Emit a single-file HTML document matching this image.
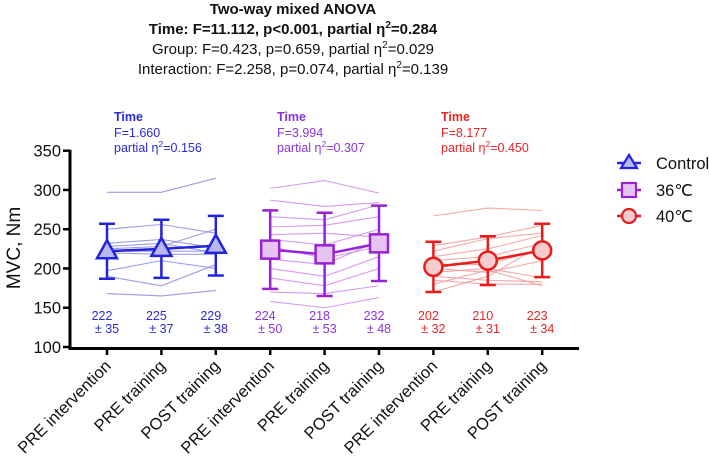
<!DOCTYPE html>
<html><head><meta charset="utf-8"><style>
html,body{margin:0;padding:0;background:#fff;}
svg{display:block;font-family:"Liberation Sans",Arial,sans-serif;}
</style></head><body>
<svg id="chart" width="709" height="457" viewBox="0 0 709 457">
<g text-anchor="middle" fill="#111">
<text x="293" y="14" font-size="15" font-weight="bold">Two-way mixed ANOVA</text>
<text x="293" y="34" font-size="15" font-weight="bold">Time: F=11.112, p&lt;0.001, partial η<tspan font-size="10" dy="-6">2</tspan><tspan dy="6">=0.284</tspan></text>
<text x="293" y="54" font-size="15">Group: F=0.423, p=0.659, partial η<tspan font-size="10" dy="-6">2</tspan><tspan dy="6">=0.029</tspan></text>
<text x="293" y="74" font-size="15">Interaction: F=2.258, p=0.074, partial η<tspan font-size="10" dy="-6">2</tspan><tspan dy="6">=0.139</tspan></text>
</g>
<g id="stats" font-size="12.5"></g>
<g id="plot"></g>
<g id="axes"></g>
<g id="legend"></g>
</svg>
<script>
const categories = ["PRE intervention","PRE training","POST training","PRE intervention","PRE training","POST training","PRE intervention","PRE training","POST training"];
const groupNames = ["Control","36℃","40℃"];
const meansControl = [222,225,229];
const sdControl = [35,37,38];
const means36 = [224,218,232];
const sd36 = [50,53,48];
const means40 = [202,210,223];
const sd40 = [32,31,34];
const indivControl = [[297,297,315],[250,256,245],[232,237,226],[228,232,220],[225,228,250],[222,222,222],[220,218,218],[197,210,200],[190,178,205],[168,165,172]];
const indiv36 = [[302,312,296],[287,279,284],[266,262,281],[253,255,266],[243,245,240],[237,230,250],[228,213,228],[212,205,235],[200,190,215],[188,178,200],[170,168,178],[158,150,163]];
const indiv40 = [[267,277,274],[229,240,255],[222,238,245],[215,225,242],[210,215,232],[205,205,225],[200,195,210],[195,200,188],[190,185,183],[185,180,180],[180,198,178],[170,190,230]];
const groupF = ["1.660","3.994","8.177"];
const groupEta = ["0.156","0.307","0.450"];
const yTicks = [100,150,200,250,300,350];

const NS="http://www.w3.org/2000/svg";
const colors=["#2323dc","#9a22d6","#e81c1c"];
const light=["#8b8bea","#d08ae8","#f29a9a"];
const fills=["#b8b8f0","#e6c4f2","#f8cccc"];
const statCol=["#2a2ad8","#8a33e0","#e82424"];
const xLeft=70, xRight=579, yTop=150.7, yBot=347;
function yS(v){return yTop+(350-v)*(yBot-yTop)/250;}
function xS(i){return 107+i*54.4;}
function el(t,a,p){const e=document.createElementNS(NS,t);for(const k in a)e.setAttribute(k,a[k]);p.appendChild(e);return e;}
const plot=document.getElementById('plot'),axes=document.getElementById('axes'),stats=document.getElementById('stats'),legend=document.getElementById('legend');
const means=[meansControl,means36,means40],sds=[sdControl,sd36,sd40],indiv=[indivControl,indiv36,indiv40];

for(let g=0;g<3;g++){
  const gg=el('g',{},plot);
  
  
  indiv[g].forEach(r=>{
    const l=el('polyline',{points:r.map((v,i)=>xS(g*3+i)+','+yS(v)).join(' '),fill:'none',stroke:light[g],'stroke-width':1.1,opacity:0.85},gg);
    
    
  });
  const ml=el('polyline',{points:means[g].map((v,i)=>xS(g*3+i)+','+yS(v)).join(' '),fill:'none',stroke:colors[g],'stroke-width':2.5},gg);
  
  
  means[g].forEach((m,i)=>{
    const x=xS(g*3+i),s=sds[g][i];
    const eb=el('path',{d:`M${x},${yS(m+s)}V${yS(m-s)}M${x-8},${yS(m+s)}H${x+8}M${x-8},${yS(m-s)}H${x+8}`,stroke:colors[g],'stroke-width':2.5,fill:'none'},gg);
    
    
    const y=yS(m);let mk;
    if(g==0)mk=el('path',{d:`M${x},${y-11}L${x+10},${y+7}L${x-10},${y+7}Z`},gg);
    else if(g==1)mk=el('rect',{x:x-9,y:y-9,width:18,height:18},gg);
    else mk=el('circle',{cx:x,cy:y,r:9},gg);
    mk.setAttribute('fill',fills[g]);mk.setAttribute('stroke',colors[g]);mk.setAttribute('stroke-width',2.5);
    
    
    const t1=el('text',{x:x-5,y:320,'text-anchor':'middle',fill:statCol[g],'font-size':12.5},gg);t1.textContent=m;
    
    
    const t2=el('text',{x:x,y:333,'text-anchor':'middle',fill:statCol[g],'font-size':12.5},gg);t2.textContent='± '+s;
    
    
  });
  const sx=[114,277,441][g];
  const sg=el('g',{fill:statCol[g]},stats);
  
  
  el('text',{x:sx,y:121,'font-weight':'bold'},sg).textContent='Time';
  el('text',{x:sx,y:137},sg).textContent='F='+groupF[g];
  const t=el('text',{x:sx,y:152},sg);t.innerHTML='partial η<tspan font-size="8.5" dy="-5">2</tspan><tspan dy="5">='+groupEta[g]+'</tspan>';
}
// axes
const ya=el('path',{d:`M${xLeft},${yTop-1}V${yBot+1.5}H${xRight}`,stroke:'#000','stroke-width':3,fill:'none'},axes);


yTicks.forEach(v=>{
  el('line',{x1:xLeft-7,x2:xLeft,y1:yS(v),y2:yS(v),stroke:'#000','stroke-width':2.5},axes);
  const t=el('text',{x:xLeft-9,y:yS(v)+6,'text-anchor':'end','font-size':16.5,fill:'#111'},axes);t.textContent=v;
  
  
});
categories.forEach((c,i)=>{
  const x=xS(i);
  el('line',{x1:x,x2:x,y1:yBot,y2:yBot+8,stroke:'#000','stroke-width':2.5},axes);
  const t=el('text',{x:x+5,y:yBot+20,'text-anchor':'end','font-size':16.5,fill:'#111',transform:`rotate(-45 ${x+5} ${yBot+20})`},axes);t.textContent=c;
  
  
});
const yt=el('text',{x:20,y:248,'text-anchor':'middle','font-size':19,fill:'#111',transform:'rotate(-90 20 248)'},axes);yt.textContent='MVC, Nm';


// legend
[163,190,216].forEach((y,g)=>{
  const lg=el('g',{},legend);
  
  
  const x=629;
  el('line',{x1:x-12,x2:x+12,y1:y,y2:y,stroke:colors[g],'stroke-width':2.5},lg);
  let mk;
  if(g==0)mk=el('path',{d:`M${x},${y-8}L${x+8},${y+5}L${x-8},${y+5}Z`},lg);
  else if(g==1)mk=el('rect',{x:x-7,y:y-7,width:14,height:14},lg);
  else mk=el('circle',{cx:x,cy:y,r:7},lg);
  mk.setAttribute('fill',fills[g]);mk.setAttribute('stroke',colors[g]);mk.setAttribute('stroke-width',2.2);
  el('text',{x:656,y:y+6,'font-size':16.5,fill:'#111'},lg).textContent=groupNames[g];
});
</script>
</body></html>
